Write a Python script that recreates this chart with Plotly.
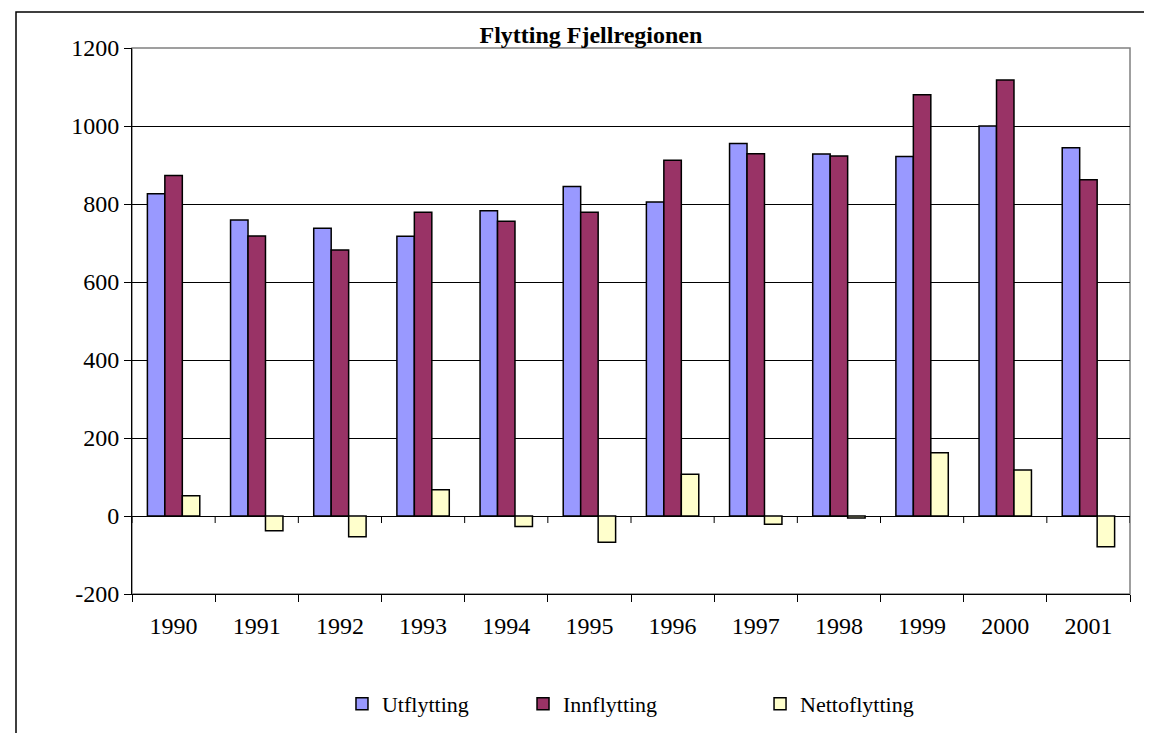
"""Flytting Fjellregionen - grouped bar chart."""

import plotly.graph_objects as go

years = ["1990", "1991", "1992", "1993", "1994", "1995",
         "1996", "1997", "1998", "1999", "2000", "2001"]
utflytting = [826, 759, 738, 717, 783, 845, 805, 955, 928, 922, 1000, 944]
innflytting = [873, 718, 682, 779, 756, 779, 912, 929, 923, 1080, 1118, 862]
nettoflytting = [52, -38, -53, 67, -27, -67, 107, -21, -5, 162, 118, -79]
y_ticks = [-200, 0, 200, 400, 600, 800, 1000, 1200]

SERIF = "Liberation Serif, Times New Roman, serif"

fig = go.Figure()
series = [
    ("Utflytting", utflytting, "#9999FF", "legend"),
    ("Innflytting", innflytting, "#993366", "legend2"),
    ("Nettoflytting", nettoflytting, "#FFFFCC", "legend3"),
]
for name, vals, color, leg in series:
    fig.add_trace(go.Bar(
        x=years, y=vals, name=name, legend=leg, showlegend=True,
        marker=dict(color=color, line=dict(color="black", width=1.5)),
    ))

# category tick marks on the zero line (the axis crosses at 0 in the original),
# drawn as downward error bars on a hidden numeric overlay axis
boundaries = [i - 0.5 for i in range(len(years) + 1)]
fig.add_trace(go.Scatter(
    x=boundaries, y=[0] * len(boundaries), xaxis="x2", mode="markers",
    marker=dict(size=1, color="rgba(0,0,0,0)"),
    error_y=dict(type="data", symmetric=False, array=[0] * len(boundaries),
                 arrayminus=[18] * len(boundaries), width=0, thickness=1, color="black"),
    showlegend=False, hoverinfo="skip",
))

# one legend per entry so the spacing matches the original
legend_style = dict(orientation="h", yanchor="middle", y=-0.2015, xanchor="left",
                    bgcolor="rgba(0,0,0,0)", borderwidth=0,
                    font=dict(family=SERIF, size=22, color="black"))

# page body has an 8px margin, plot area should sit at x 132..1130, y 48..594
fig.update_layout(
    width=1152, height=733, showlegend=True,
    paper_bgcolor="white", plot_bgcolor="white",
    margin=dict(l=124, r=30, t=40, b=147),
    barmode="group", bargap=0.37, bargroupgap=0,
    font=dict(family=SERIF, size=24, color="black"),
    title=dict(text="<b>Flytting Fjellregionen</b>", x=0.506, xref="container",
               xanchor="center", y=1 - 26.5 / 733, yref="container", yanchor="middle",
               font=dict(family=SERIF, size=24, color="black")),
    legend=dict(legend_style, x=0.2104),
    legend2=dict(legend_style, x=0.3918),
    legend3=dict(legend_style, x=0.6293),
    xaxis=dict(range=[-0.5, len(years) - 0.5], showline=True, linecolor="black",
               linewidth=1, ticks="outside", ticklen=7, tickcolor="black",
               tickson="boundaries", showgrid=False, ticklabelstandoff=10),
    xaxis2=dict(overlaying="x", range=[-0.5, len(years) - 0.5], visible=False),
    yaxis=dict(range=[-200, 1200], tickvals=y_ticks, ticktext=[str(v) for v in y_ticks],
               showline=True, linecolor="black",
               linewidth=1, ticks="outside", ticklen=7, tickcolor="black",
               showgrid=True, gridcolor="black", gridwidth=1,
               zeroline=True, zerolinecolor="black", zerolinewidth=1,
               ticklabelstandoff=0),
    shapes=[
        # plot area border (grey, visible on the right)
        dict(type="rect", xref="paper", yref="paper", x0=0, x1=1, y0=0, y1=1,
             line=dict(color="#808080", width=1.5), layer="below"),
        # chart area frame
        dict(type="rect", xref="paper", yref="paper",
             x0=(16 - 132) / 998, x1=(1175 - 132) / 998,
             y0=(594 - 760) / 546, y1=(594 - 12) / 546,
             line=dict(color="black", width=1.5), layer="below"),
    ],
)

fig.write_html("out.html")
